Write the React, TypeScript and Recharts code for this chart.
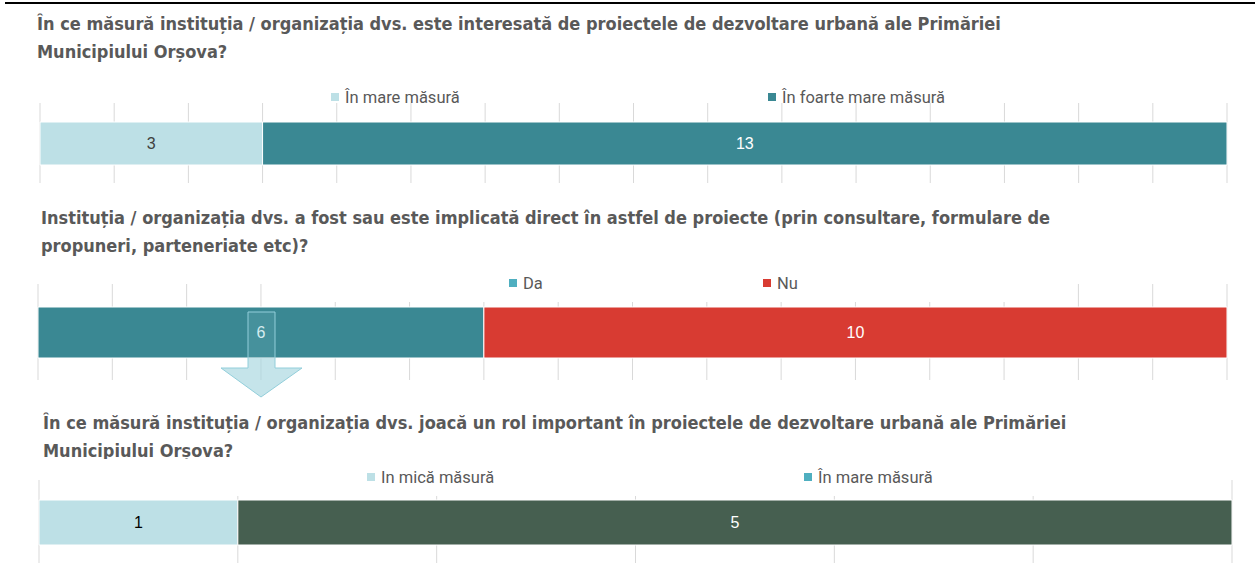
import { BarChart, Bar, XAxis, YAxis, CartesianGrid, LabelList } from 'recharts';

// Q1
const q1Title = [
  'În ce măsură instituția / organizația dvs. este interesată de proiectele de dezvoltare urbană ale Primăriei',
  'Municipiului Orșova?',
];
const q1Series = ['În mare măsură', 'În foarte mare măsură'];
const q1Values = [3, 13];
const q1Ticks = [0, 1, 2, 3, 4, 5, 6, 7, 8, 9, 10, 11, 12, 13, 14, 15, 16];

// Q2
const q2Title = [
  'Instituția / organizația dvs. a fost sau este implicată direct în astfel de proiecte (prin consultare, formulare de',
  'propuneri, parteneriate etc)?',
];
const q2Series = ['Da', 'Nu'];
const q2Values = [6, 10];
const q2Ticks = [0, 1, 2, 3, 4, 5, 6, 7, 8, 9, 10, 11, 12, 13, 14, 15, 16];

// Q3
const q3Title = [
  'În ce măsură instituția / organizația dvs. joacă un rol important în proiectele de dezvoltare urbană ale Primăriei',
  'Municipiului Orșova?',
];
const q3Series = ['In mică măsură', 'În mare măsură'];
const q3Values = [1, 5];
const q3Ticks = [0, 1, 2, 3, 4, 5, 6];

const TITLE_FONT = '"Liberation Sans Narrow", "DejaVu Sans Condensed", sans-serif';
const TEXT_FONT = 'Roboto, "Liberation Sans", sans-serif';

interface ChartCfg {
  series: string[];
  values: number[];
  ticks: number[];
  top: number;
  height: number;
  margin: { top: number; right: number; bottom: number; left: number };
  barSize: number;
  colors: string[];
  legendColors: string[];
  labelColors: string[];
  legendX: number[];
  legendY: number;
  legendBox?: { left: number; top: number; width: number; height: number };
}

function Title({ lines, top, left, clip }: { lines: string[]; top: number; left: number; clip?: number }) {
  return (
    <div
      style={{
        position: 'absolute',
        top,
        left,
        fontFamily: TITLE_FONT,
        fontWeight: 700,
        fontSize: 18,
        lineHeight: '28px',
        color: '#595959',
        whiteSpace: 'nowrap',
        height: clip,
        overflow: clip ? 'hidden' : undefined,
      }}
    >
      {lines.map((l, i) => (
        <div key={i}>{l}</div>
      ))}
    </div>
  );
}

function StackedRow({ cfg }: { cfg: ChartCfg }) {
  const row: Record<string, string | number> = { name: 'q' };
  cfg.values.forEach((v, i) => (row[`s${i}`] = v));
  const max = cfg.ticks[cfg.ticks.length - 1];
  return (
    <>
      <div style={{ position: 'absolute', left: 0, top: cfg.top, width: 1255, height: cfg.height }}>
        <BarChart width={1255} height={cfg.height} data={[row]} layout="vertical" margin={cfg.margin} barCategoryGap={0}>
          <CartesianGrid horizontal={false} stroke="#D9D9D9" />
          <XAxis type="number" domain={[0, max]} ticks={cfg.ticks} hide />
          <YAxis type="category" dataKey="name" hide />
          {cfg.series.map((s, i) => (
            <Bar
              key={s}
              dataKey={`s${i}`}
              name={s}
              stackId="a"
              fill={cfg.colors[i]}
              barSize={cfg.barSize}
              stroke="#ffffff"
              strokeWidth={1}
              isAnimationActive={false}
            >
              <LabelList
                dataKey={`s${i}`}
                position="center"
                fill={cfg.labelColors[i]}
                fontSize={16}
                fontFamily='"Liberation Sans", Arial, sans-serif'
              />
            </Bar>
          ))}
        </BarChart>
      </div>
      {cfg.legendBox && <div style={{ position: 'absolute', background: '#fff', ...cfg.legendBox }} />}
      {cfg.series.map((s, i) => (
        <div
          key={s}
          style={{
            position: 'absolute',
            left: cfg.legendX[i],
            top: cfg.legendY - 11,
            height: 22,
            display: 'flex',
            alignItems: 'center',
            fontFamily: TEXT_FONT,
            fontSize: 16.5,
            color: '#595959',
            whiteSpace: 'nowrap',
          }}
        >
          <span style={{ width: 8, height: 8, background: cfg.legendColors[i], marginRight: 6, display: 'inline-block' }} />
          {s}
        </div>
      ))}
    </>
  );
}

const charts: ChartCfg[] = [
  {
    series: q1Series,
    values: q1Values,
    ticks: q1Ticks,
    top: 80,
    height: 110,
    margin: { top: 23, right: 28, bottom: 7, left: 40 },
    barSize: 43,
    colors: ['#BDE0E6', '#3A8893'],
    legendColors: ['#BDE0E6', '#3A8893'],
    labelColors: ['#404040', '#ffffff'],
    legendX: [331, 768],
    legendY: 97,
  },
  {
    series: q2Series,
    values: q2Values,
    ticks: q2Ticks,
    top: 270,
    height: 115,
    margin: { top: 14, right: 28, bottom: 5, left: 38 },
    barSize: 51,
    colors: ['#3A8893', '#D83B32'],
    legendColors: ['#4FAFC0', '#D83B32'],
    labelColors: ['#DDEFF2', '#ffffff'],
    legendX: [509, 763],
    legendY: 283,
    legendBox: { left: 300, top: 270, width: 740, height: 32 },
  },
  {
    series: q3Series,
    values: q3Values,
    ticks: q3Ticks,
    top: 460,
    height: 110,
    margin: { top: 20, right: 23, bottom: 5, left: 39 },
    barSize: 45,
    colors: ['#BDE0E6', '#465F50'],
    legendColors: ['#BDE0E6', '#4FAFC0'],
    labelColors: ['#000000', '#ffffff'],
    legendX: [367, 804],
    legendY: 477,
    legendBox: { left: 100, top: 462, width: 1100, height: 34 },
  },
];

export default function App() {
  return (
    <div style={{ position: 'fixed', left: 0, top: 0, width: 1255, height: 563, overflow: 'hidden', background: '#fff' }}>
      <div style={{ position: 'absolute', left: 5, top: 2, width: 1250, height: 2, background: '#000' }} />
      <Title lines={q1Title} top={10} left={37} />
      <Title lines={q2Title} top={204} left={41} />
      <Title lines={q3Title} top={409} left={43} clip={50} />
      {charts.map((c, i) => (
        <StackedRow key={i} cfg={c} />
      ))}
      <svg width={1255} height={563} style={{ position: 'absolute', left: 0, top: 0, pointerEvents: 'none' }}>
        <polygon points="248,312 275,312 275,358 248,358" fill="rgba(166,213,222,0.12)" />
        <polygon points="248,358 275,358 275,368 302,368 261,397 221,368 248,368" fill="rgba(166,213,222,0.65)" />
        <polygon
          points="248,312 275,312 275,368 302,368 261,397 221,368 248,368"
          fill="none"
          stroke="#92CEDA"
          strokeWidth={1}
        />
      </svg>
    </div>
  );
}
